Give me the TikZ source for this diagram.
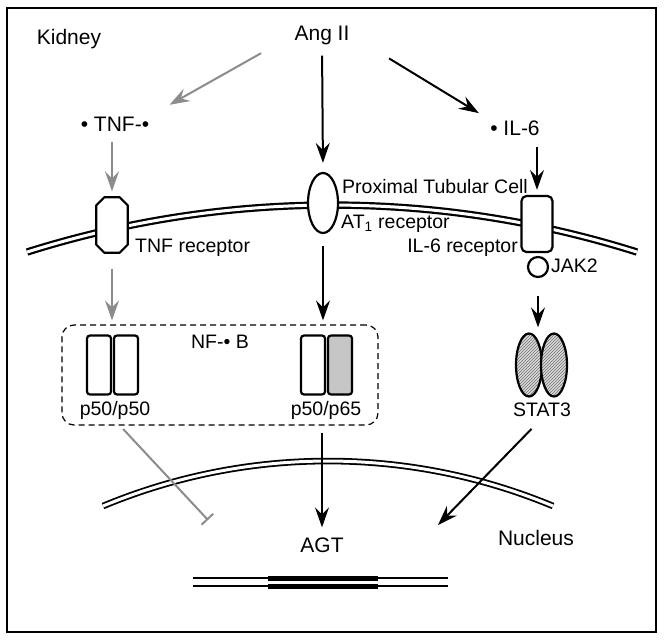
\documentclass[tikz,border=0pt]{standalone}
\usepackage{fontspec}
\setmainfont{Liberation Sans}
\usetikzlibrary{arrows.meta,shapes.geometric,patterns}

\begin{document}
\begin{tikzpicture}[x=1pt,y=-1pt,
	lbl/.style={inner sep=1pt,font=\fontsize{19.5}{22}\selectfont},
	blk/.style={line width=2pt,-{Stealth[length=20pt,width=14pt,inset=7pt]}},
	gry/.style={blk,draw=black!45,fill=black!45},
	prot/.style={draw,line width=2.2pt,fill=white,inner sep=0pt},
	statp/.style={draw,line width=2.2pt,ellipse,inner sep=0pt,minimum width=26pt,minimum height=63pt,
		preaction={fill=gray!30},pattern=north east lines,pattern color=black!55},
	memb/.style={double,double distance=3pt,line width=2.2pt}]
	\useasboundingbox (0,0) rectangle (664,640);
	\draw[line width=1.2pt] (7,8) rectangle (656,632);
	% membranes
	\draw[memb] (332,1218) ++(-107.52:1013) arc[start angle=-107.52,end angle=-72.48,radius=1013];
	\draw[memb,line width=1.8pt] (328,1046) ++(-112.62:585) arc[start angle=-112.62,end angle=-67.38,radius=585];
	% gene
	\draw[line width=2pt] (193,578) -- (448,578);
	\draw[line width=2pt] (193,586) -- (448,586);
	\draw[line width=5pt] (268,578) -- (378,578);
	\draw[line width=5pt] (268,586) -- (378,586);

	\draw (69,39) node[lbl,font=\fontsize{21}{24}\selectfont] (kidney) {Kidney};
	\draw (322,35) node[lbl,font=\fontsize{21}{24}\selectfont] (ang) {Ang II};
	\draw (115,124) node[lbl,font=\fontsize{21}{24}\selectfont] (tnf) {• TNF-•};
	\draw (515,128) node[lbl,font=\fontsize{21}{24}\selectfont] (il6) {• IL-6};

	% octagon drawn round an empty node
	\node[inner sep=0pt,minimum width=31pt,minimum height=55pt] (tnfr) at (112,225) {};
	\draw[prot,line join=round] ([yshift=8pt]tnfr.south west) -- ([yshift=-8pt]tnfr.north west) -- ([xshift=8pt]tnfr.north west)
		-- ([xshift=-8pt]tnfr.north east) -- ([yshift=-8pt]tnfr.north east) -- ([yshift=8pt]tnfr.south east)
		-- ([xshift=-8pt]tnfr.south east) -- ([xshift=8pt]tnfr.south west) -- cycle;
	\node[prot,ellipse,minimum width=30pt,minimum height=60pt] (at1) at (323,203) {};
	\node[prot,rounded corners=5pt,minimum width=31pt,minimum height=56pt] (il6r) at (537,224) {};
	\node[prot,circle,minimum size=20pt] (jak2) at (538,267) {};
	\draw (341,187) node[lbl,anchor=west] (ptc) {Proximal Tubular Cell};
	\draw (340,224) node[lbl,anchor=west] (at1lbl) {AT\textsubscript{1} receptor};
	\draw (134,248) node[lbl,anchor=west] (tnfrlbl) {TNF receptor};
	\draw (519,248) node[lbl,anchor=east] (il6rlbl) {IL-6 receptor};
	\draw (550,266) node[lbl,anchor=west] (jak2lbl) {JAK2};

	\node[draw,dashed,dash pattern=on 6pt off 4pt,line width=1.2pt,rounded corners=12pt,minimum width=316pt,minimum height=100pt] (nfkb) at (220,375) {};
	\node[prot,rounded corners=3pt,minimum width=24pt,minimum height=59pt] (p50a) at (99,365) {};
	\node[prot,rounded corners=3pt,minimum width=24pt,minimum height=59pt] (p50b) at (126,365) {};
	\node[prot,rounded corners=3pt,minimum width=24pt,minimum height=59pt] (p50c) at (313,365) {};
	\node[prot,rounded corners=3pt,minimum width=24pt,minimum height=59pt,fill=gray!45] (p65) at (340,365) {};
	\draw (220,342) node[lbl] (nfkblbl) {NF-• B};
	\draw (115,410) node[lbl] (p50lbl) {p50/p50};
	\draw (326,410) node[lbl] (p65lbl) {p50/p65};

	\node[statp] (stata) at (529,365) {};
	\node[statp] (statb) at (554,365) {};
	\draw (542,410) node[lbl] (stat3lbl) {STAT3};

	\draw (322,545) node[lbl,font=\fontsize{21}{24}\selectfont] (agt) {AGT};
	\draw (536,538) node[lbl,font=\fontsize{21}{24}\selectfont] (nucleus) {Nucleus};
	\coordinate (stattip) at (438,525);
	\coordinate (inhtip) at (208,520);

	\draw[gry,shorten <=37pt,shorten >=22pt] (ang.west) -- (tnf.north east);
	\draw[blk,shorten <=10pt,shorten >=9pt] (ang.south) -- (at1.north);
	\draw[blk,shorten <=45pt,shorten >=12pt] (ang.east) -- (il6.north west);
	\draw[gry,shorten <=10pt,shorten >=6pt] (tnfr|-tnf.south) -- (tnfr.north);
	\draw[blk,shorten <=10pt,shorten >=5pt] (il6r|-il6.south) -- (il6r.north);
	\draw[gry,shorten <=16pt,shorten >=4pt] (tnfr.south) -- (tnfr|-nfkb.north);
	\draw[blk,shorten <=12pt,shorten >=4pt] (at1.south) -- (at1|-nfkb.north);
	\draw[blk,shorten <=18pt,shorten >=5pt] (jak2.south) -- (jak2|-stata.north);
	\draw[blk,shorten <=7pt,shorten >=9pt] (agt|-nfkb.south) -- (agt.north);
	\draw[blk,shorten <=15pt] (stat3lbl.south) -- (stattip);
	\draw[draw=black!45,line width=2pt,-{Bar[width=16pt]},shorten <=12pt] (p50lbl.south) -- (inhtip);
\end{tikzpicture}
\end{document}
